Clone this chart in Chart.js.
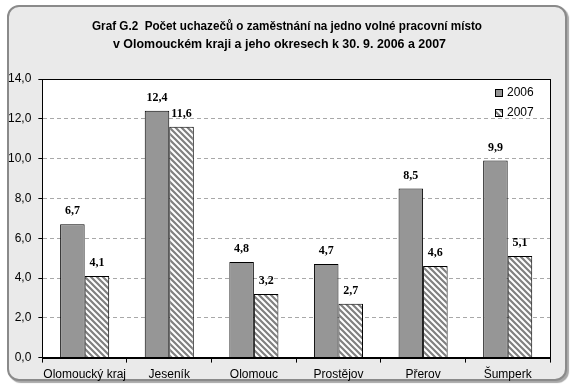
<!DOCTYPE html>
<html>
<head>
<meta charset="utf-8">
<script src="https://cdn.jsdelivr.net/npm/chart.js@4.4.0/dist/chart.umd.min.js"></script>
<style>
    html, body { margin: 0; padding: 0; background: #fff; }
    #wrap { position: relative; width: 575px; height: 388px; }
    #frame {
        position: absolute; left: 7px; top: 5px; width: 556px; height: 372px;
        background: #eaeaea; border: 2px solid #8a8a8a; border-radius: 12px;
        box-shadow: 2px 2px 1px #a8a8a8;
    }
    canvas { position: absolute; left: 0; top: 0; }
</style>
</head>
<body>
<div id="wrap">
    <div id="frame"></div>
    <canvas id="chartUchazeci" width="575" height="388"></canvas>
</div>
<script>
// data
const categories = ['Olomoucký kraj', 'Jeseník', 'Olomouc', 'Prostějov', 'Přerov', 'Šumperk'];
const seriesLabels = ['2006', '2007'];
const values2006 = [6.7, 12.4, 4.8, 4.7, 8.5, 9.9];
const values2007 = [4.1, 11.6, 3.2, 2.7, 4.6, 5.1];
const yMin = 0;
const yMax = 14;
const yStep = 2;
const titleLines = [
    'Graf G.2  Počet uchazečů o zaměstnání na jedno volné pracovní místo',
    'v Olomouckém kraji a jeho okresech k 30. 9. 2006 a 2007',
];

function fmt(v) {
    return v.toFixed(1).replace('.', ',');
}

// sikme srafovani pro rok 2007
function makeHatch() {
    var s = 6;
    var c = document.createElement('canvas');
    c.width = s;
    c.height = s;
    var g = c.getContext('2d');
    g.fillStyle = '#ffffff';
    g.fillRect(0, 0, s, s);
    g.strokeStyle = '#808080';
    g.lineWidth = 2.2;
    g.beginPath();
    g.moveTo(-2, -2);
    g.lineTo(s + 2, s + 2);
    g.moveTo(-2, s - 2);
    g.lineTo(2, s + 2);
    g.moveTo(s - 2, -2);
    g.lineTo(s + 2, 2);
    g.stroke();
    return g.createPattern(c, 'repeat');
}

const hatch = makeHatch();

const plotBox = {
    id: 'plotBox',
    beforeDraw(chart) {
        const a = chart.chartArea;
        const ctx = chart.ctx;
        ctx.save();
        ctx.fillStyle = '#ffffff';
        ctx.fillRect(a.left, a.top, a.right - a.left, a.bottom - a.top);
        ctx.restore();
    },
    afterDatasetsDraw(chart) {
        const a = chart.chartArea;
        const ctx = chart.ctx;
        ctx.save();
        // ramecek grafu
        ctx.strokeStyle = '#000';
        ctx.lineWidth = 1;
        ctx.strokeRect(Math.round(a.left) + 0.5, Math.round(a.top) + 0.5,
            Math.round(a.right - a.left), Math.round(a.bottom - a.top));

        // popisky hodnot
        ctx.font = 'bold 12px "Liberation Serif", "Times New Roman", serif';
        ctx.fillStyle = '#000';
        ctx.textAlign = 'center';
        ctx.textBaseline = 'bottom';
        chart.data.datasets.forEach((ds, i) => {
            const meta = chart.getDatasetMeta(i);
            meta.data.forEach((bar, j) => {
                ctx.fillText(fmt(ds.data[j]), bar.x, bar.y - 7);
            });
        });

        // legenda
        ctx.font = '12px "Liberation Sans", Arial, sans-serif';
        ctx.textAlign = 'left';
        ctx.textBaseline = 'middle';
        chart.data.datasets.forEach((ds, i) => {
            const x = 495;
            const y = 93 + i * 20;
            ctx.fillStyle = ds.backgroundColor;
            ctx.fillRect(x, y - 4, 8, 8);
            ctx.strokeStyle = '#000';
            ctx.strokeRect(x + 0.5, y - 3.5, 7, 7);
            ctx.fillStyle = '#000';
            ctx.fillText(ds.label, x + 12, y);
        });

        // nadpis - uzke pismo (Arial Narrow) nahrazeno zuzenim
        ctx.font = 'bold 13px "Liberation Sans", Arial, sans-serif';
        ctx.textAlign = 'left';
        ctx.textBaseline = 'middle';
        const spans = [[92, 482], [113, 446]];
        titleLines.forEach((line, i) => {
            const w = ctx.measureText(line).width;
            const k = (spans[i][1] - spans[i][0]) / w;
            ctx.save();
            ctx.translate(spans[i][0], 26 + i * 18);
            ctx.scale(k, 1);
            ctx.fillText(line, 0, 0);
            ctx.restore();
        });
        ctx.restore();
    },
};

const ctx = document.getElementById('chartUchazeci').getContext('2d');
const myChart = new Chart(ctx, {
    type: 'bar',
    data: {
        labels: categories,
        datasets: [
            {
                label: seriesLabels[0],
                data: values2006,
                backgroundColor: '#969696',
                borderColor: '#000',
                borderWidth: 1,
            },
            {
                label: seriesLabels[1],
                data: values2007,
                backgroundColor: hatch,
                borderColor: '#000',
                borderWidth: 1,
            },
        ],
    },
    options: {
        responsive: false,
        animation: false,
        layout: {
            padding: { left: 1, right: 25, bottom: 1, top: 79 },
        },
        datasets: {
            bar: {
                categoryPercentage: 0.58,
                barPercentage: 1.0,
            },
        },
        plugins: {
            legend: { display: false },
            tooltip: { enabled: false },
            title: { display: false },
        },
        scales: {
            x: {
                grid: {
                    offset: true,
                    drawOnChartArea: false,
                    color: '#000',
                    tickLength: 5,
                },
                border: { color: '#000' },
                ticks: {
                    color: '#000',
                    padding: 5,
                    autoSkip: false,
                    maxRotation: 0,
                    font: { family: '"Liberation Sans", Arial, sans-serif', size: 12 },
                },
            },
            y: {
                min: yMin,
                max: yMax,
                grid: {
                    color: '#a8a8a8',
                    tickColor: '#000',
                    tickLength: 4,
                    tickBorderDash: [],
                },
                border: { color: '#000', dash: [4, 3] },
                ticks: {
                    stepSize: yStep,
                    color: '#000',
                    padding: 7,
                    font: { family: '"Liberation Sans", Arial, sans-serif', size: 12 },
                    callback: (v) => fmt(v),
                },
            },
        },
    },
    plugins: [plotBox],
});
</script>
</body>
</html>
